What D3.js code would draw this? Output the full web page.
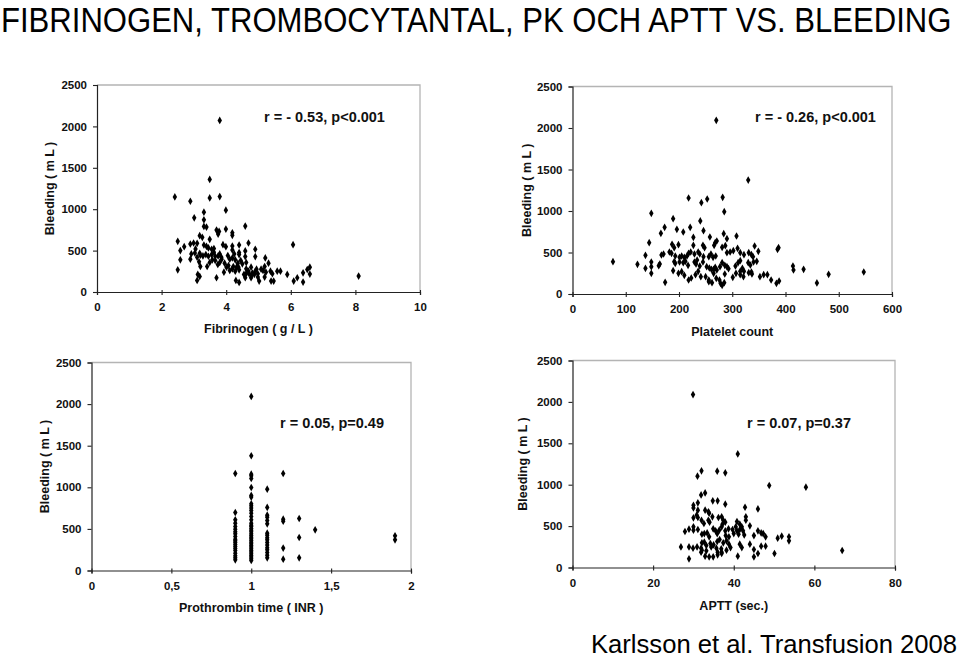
<!DOCTYPE html>
<html><head><meta charset="utf-8">
<script src="https://cdn.jsdelivr.net/npm/d3@7"></script>
<style>
body{margin:0;background:#fff;}
svg{display:block;}
text{font-family:"Liberation Sans",Arial,sans-serif;}
</style></head>
<body>
<svg id="c" width="960" height="657"></svg>
<script>
// ---------- DATA ----------
const yTicks = [0, 500, 1000, 1500, 2000, 2500];

const fibTicks = [0, 2, 4, 6, 8, 10];
const fibrinogen = [[3.80,2072],[3.49,1360],[2.41,1148],[2.89,1096],[3.49,1136],[3.80,1152],[3.99,988],[3.31,964],[3.01,896],[3.31,872],[3.31,792],[3.39,784],[4.59,796],[3.70,748],[3.78,732],[3.75,700],[3.99,760],[4.19,716],[4.19,684],[6.07,572],[8.10,192],[2.50,612],[3.18,680],[3.26,660],[3.49,636],[2.70,548],[2.58,500],[2.89,580],[2.99,592],[3.10,588],[3.31,568],[3.39,552],[3.45,532],[3.55,516],[3.62,524],[3.90,572],[3.99,548],[4.19,556],[4.19,508],[4.40,568],[4.40,476],[4.40,452],[4.69,592],[4.59,496],[4.59,428],[4.90,516],[4.90,428],[2.92,460],[3.03,472],[3.18,468],[3.20,444],[3.28,436],[3.37,452],[3.45,432],[3.55,452],[3.66,432],[3.75,436],[3.80,460],[2.58,388],[2.89,396],[3.10,420],[3.16,364],[3.20,308],[3.41,308],[3.49,356],[3.57,388],[3.66,380],[3.74,332],[3.80,356],[3.86,396],[3.95,348],[4.01,300],[4.07,320],[3.93,240],[4.11,396],[4.19,412],[4.28,388],[4.36,348],[4.32,300],[4.22,308],[4.11,260],[4.19,280],[4.28,252],[4.38,300],[4.40,268],[4.50,340],[4.62,356],[4.62,280],[4.69,252],[4.77,300],[4.81,228],[4.90,252],[4.94,276],[4.98,220],[5.08,276],[5.14,260],[5.19,308],[5.23,240],[4.55,212],[4.63,228],[4.71,220],[4.79,204],[4.87,212],[4.77,172],[4.59,172],[4.98,180],[5.21,412],[5.31,348],[3.12,212],[3.18,188],[3.10,140],[2.50,268],[3.70,172],[4.30,140],[4.40,116],[5.02,132],[5.19,180],[5.37,252],[5.43,220],[5.39,132],[5.47,132],[5.58,252],[5.68,252],[5.89,212],[6.09,132],[6.20,172],[6.38,232],[6.51,272],[6.59,300],[6.59,216],[6.38,120],[3.05,520],[3.62,480],[4.05,440],[4.25,460],[3.85,420],[4.45,380]];

const plateletTicks = [0, 100, 200, 300, 400, 500, 600];
const platelets = [[270,2092],[330,1373],[218,1157],[242,1100],[253,1145],[282,1165],[285,992],[148,972],[189,908],[240,880],[173,803],[196,779],[221,803],[166,731],[208,747],[246,763],[227,683],[258,687],[271,639],[268,618],[284,727],[290,667],[308,699],[144,618],[187,598],[191,558],[199,594],[227,586],[245,586],[248,558],[266,586],[281,562],[287,582],[342,578],[385,538],[387,558],[137,466],[167,470],[171,482],[182,506],[186,490],[193,458],[201,442],[205,458],[210,442],[215,458],[218,490],[222,506],[229,482],[236,506],[239,482],[246,450],[256,450],[260,482],[264,442],[269,458],[290,498],[296,506],[302,522],[310,550],[315,498],[322,474],[331,498],[336,474],[339,450],[349,514],[122,357],[148,386],[162,341],[164,361],[191,390],[193,369],[201,386],[208,378],[212,394],[217,345],[229,386],[232,361],[234,410],[239,337],[245,386],[252,329],[257,313],[261,297],[265,297],[268,321],[271,289],[277,329],[281,377],[286,345],[290,329],[293,305],[306,337],[311,377],[315,402],[319,309],[315,273],[322,273],[330,377],[334,349],[336,265],[340,386],[346,394],[137,309],[148,249],[148,329],[189,281],[199,249],[205,269],[210,225],[218,169],[223,193],[231,233],[236,273],[241,209],[250,209],[256,169],[265,249],[270,189],[276,169],[278,129],[281,104],[285,137],[286,241],[301,201],[307,249],[315,233],[321,209],[331,257],[337,241],[352,209],[359,233],[366,233],[373,169],[383,129],[388,157],[414,337],[415,289],[434,297],[459,133],[481,237],[547,265],[76,390],[174,141],[256,149],[262,137]];

const inrTicks = [0, 0.5, 1, 1.5, 2];
const inrTickLabels = ["0", "0,5", "1", "1,5", "2"];
const inr09 = [1166,697,609,569,529,497,465,441,409,377,357,337,313,289,265,240,208,176,152,128];
const inr10 = [2092,1379,1158,1138,1106,998,902,882,802,778,750,721,689,649,609,569,545,529,505,485,465,441,421,401,381,361,341,321,301,281,261,241,221,201,181,161,141,121];
const inr11 = [978,758,665,641,601,561,449,425,393,369,337,305,273,249,216,184,152];
const inr12 = [1166,617,593,269,136];
const inr13 = [625,397,152];
const inr14 = [489];
const inr19 = [417,369];
const inrGroups = [[0.9, inr09],[1.0, inr10],[1.1, inr11],[1.2, inr12],[1.3, inr13],[1.4, inr14],[1.9, inr19]];

const apttTicks = [0, 20, 40, 60, 80];
const aptt = [[29.9,2088],[41.0,1372],[31.0,1103],[32.0,1167],[35.9,1163],[37.9,1143],[48.8,990],[57.9,970],[31.9,877],[32.9,901],[34.8,805],[36.0,805],[30.0,752],[31.1,781],[37.9,765],[42.8,728],[46.0,708],[30.0,720],[31.1,692],[32.9,692],[33.7,672],[33.9,656],[30.0,600],[30.8,632],[31.1,604],[32.0,571],[32.6,531],[33.7,571],[34.0,547],[34.7,612],[36.2,604],[37.0,612],[37.4,571],[37.2,523],[37.9,547],[40.8,555],[41.5,523],[43.0,612],[43.0,571],[44.0,503],[28.9,463],[27.9,435],[30.0,491],[30.0,451],[31.1,459],[32.1,402],[32.7,410],[33.4,418],[33.9,370],[34.9,467],[35.5,443],[35.9,410],[36.4,451],[37.0,491],[37.9,443],[38.7,467],[38.0,386],[38.8,370],[39.7,459],[40.0,410],[40.5,491],[40.8,443],[41.2,402],[41.5,459],[42.0,491],[42.3,443],[42.6,394],[45.0,386],[46.0,443],[46.8,418],[47.3,410],[47.9,370],[50.9,354],[51.9,378],[53.7,370],[53.7,322],[26.9,249],[28.9,249],[29.9,233],[30.9,249],[32.1,298],[32.7,306],[33.2,266],[34.2,290],[35.0,274],[35.9,314],[36.5,338],[37.4,298],[38.2,322],[38.8,282],[32.1,209],[33.2,201],[34.4,249],[35.7,233],[36.9,225],[38.2,209],[39.2,241],[41.5,282],[42.0,241],[44.0,282],[45.0,217],[46.0,169],[46.8,258],[47.9,258],[28.9,105],[32.9,137],[33.9,129],[34.9,129],[36.0,153],[37.0,169],[41.0,137],[45.0,129],[50.1,169],[66.9,205],[31.9,185],[31.9,233],[36.0,185],[37.0,185]];

const titleText = "FIBRINOGEN, TROMBOCYTANTAL, PK OCH APTT VS. BLEEDING";
const sourceText = "Karlsson et al. Transfusion 2008";
const yTitle = "Bleeding ( m L )";

// ---------- DRAW ----------
const svg = d3.select("#c");

// Title: fitted to width by horizontal scaling (condensed look)
const titleG = svg.append("g");
const title = titleG.append("text").attr("x", 0).attr("y", 0)
  .attr("font-family", "'Liberation Sans Narrow','Arial Narrow','Liberation Sans',sans-serif")
  .attr("font-size", 35).text(titleText);
const tw = title.node().getComputedTextLength();
titleG.attr("transform", `translate(1,31.5) scale(${951 / tw},1)`);

svg.append("text").attr("x", 591).attr("y", 653)
  .attr("font-size", 25.5).attr("textLength", 366).attr("lengthAdjust", "spacingAndGlyphs")
  .text(sourceText);

const inrPoints = inrGroups.flatMap(([x, ys]) => ys.map(y => [x, y]));

const panels = [
  {l:97, r:420, t:85, b:292, xdom:[0,10], xt:fibTicks, xl:fibTicks.map(String), data:fibrinogen,
   xTitle:"Fibrinogen ( g / L )", xTitleY:333, yTitleX:54, ann:"r = - 0.53, p<0.001", annX:264, annY:121.5},
  {l:572.5, r:892, t:86.5, b:294, xdom:[0,600], xt:plateletTicks, xl:plateletTicks.map(String), data:platelets,
   xTitle:"Platelet count", xTitleY:336, yTitleX:531, ann:"r = - 0.26, p<0.001", annX:755, annY:121.5},
  {l:91.5, r:411, t:362.5, b:570.5, xdom:[0,2], xt:inrTicks, xl:inrTickLabels, data:inrPoints,
   xTitle:"Prothrombin time ( INR )", xTitleY:612, yTitleX:49, ann:"r = 0.05, p=0.49", annX:280, annY:427.5},
  {l:572.5, r:895, t:360.5, b:567.5, xdom:[0,80], xt:apttTicks, xl:apttTicks.map(String), data:aptt,
   xTitle:"APTT (sec.)", xTitleY:610, yTitleX:527, ann:"r = 0.07, p=0.37", annX:747, annY:427.5}
];

const diamond = d3.symbol().type(d3.symbolDiamond).size(17);

panels.forEach(p => {
  const x = d3.scaleLinear().domain(p.xdom).range([p.l, p.r]);
  const y = d3.scaleLinear().domain([0, 2500]).range([p.b, p.t]);
  const g = svg.append("g");

  // frame (top & right, grey)
  g.append("path").attr("d", `M${p.l},${p.t}H${p.r}V${p.b}`)
    .attr("fill", "none").attr("stroke", "#b4b4b4").attr("stroke-width", 1.3);

  // x axis
  const xa = g.append("g").attr("transform", `translate(0,${p.b})`)
    .call(d3.axisBottom(x).tickValues(p.xt).tickFormat((d, i) => p.xl[i]).tickSize(3).tickPadding(8));
  // y axis
  const ya = g.append("g").attr("transform", `translate(${p.l},0)`)
    .call(d3.axisLeft(y).tickValues(yTicks).tickFormat(d3.format("d")).tickSize(4).tickPadding(6));
  [xa, ya].forEach(a => {
    a.selectAll(".domain").attr("stroke", "#222").attr("stroke-width", 1.2);
    a.selectAll(".tick line").attr("stroke", "#222").attr("stroke-width", 1.1);
    a.selectAll("text").attr("font-size", 11.5).attr("font-weight", "bold")
      .attr("font-family", "'Liberation Sans',Arial,sans-serif").attr("fill", "#111");
  });
  xa.selectAll(".tick line").attr("y1", -2);

  // points
  g.append("g").selectAll("path").data(p.data).join("path")
    .attr("d", diamond)
    .attr("transform", d => `translate(${x(d[0])},${y(d[1])})`)
    .attr("fill", "#000");

  // titles
  g.append("text").attr("x", (p.l + p.r) / 2).attr("y", p.xTitleY)
    .attr("text-anchor", "middle").attr("font-size", 12.5).attr("font-weight", "bold")
    .attr("fill", "#111").text(p.xTitle);
  g.append("text").attr("transform", `translate(${p.yTitleX},${(p.t + p.b) / 2}) rotate(-90)`)
    .attr("text-anchor", "middle").attr("font-size", 12.5).attr("font-weight", "bold")
    .attr("fill", "#111").text(yTitle);

  // annotation
  g.append("text").attr("x", p.annX).attr("y", p.annY)
    .attr("font-size", 14.5).attr("font-weight", "bold").attr("fill", "#111").text(p.ann);
});
</script>
</body></html>
